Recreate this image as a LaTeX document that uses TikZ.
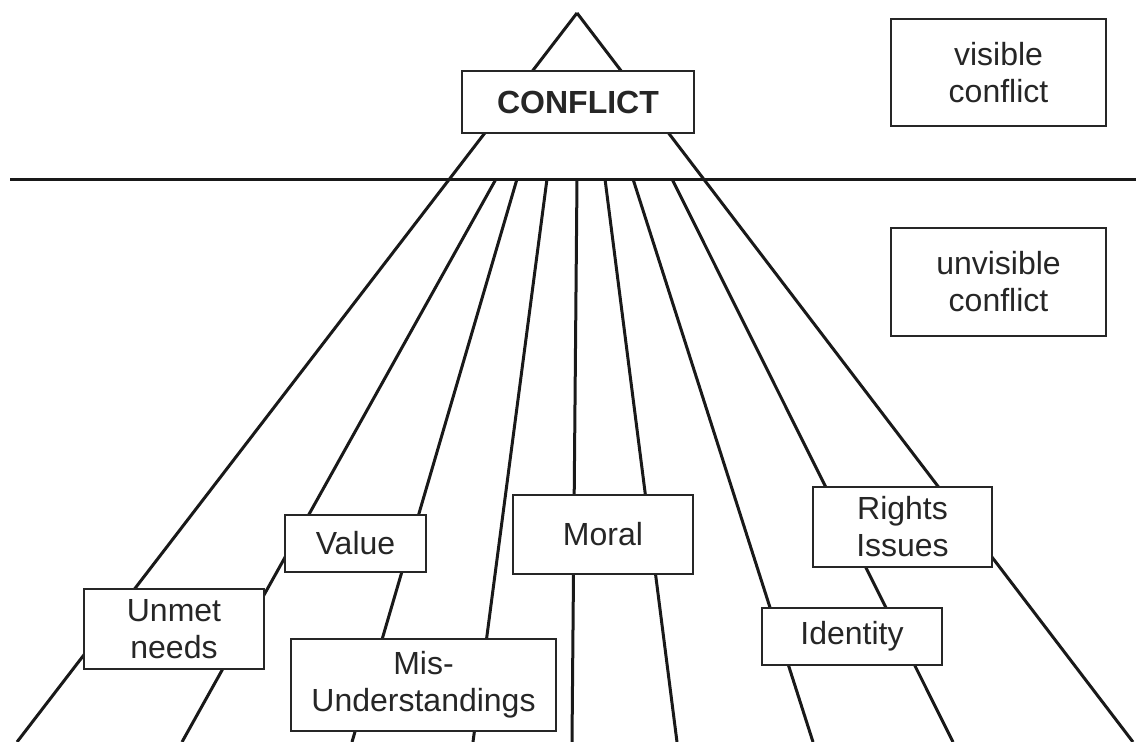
\documentclass[tikz,border=0pt]{standalone}
\usepackage{fontspec}
\setmainfont{Liberation Sans}
\begin{document}
\begin{tikzpicture}[x=1pt,y=-1pt,
  ln/.style={line width=3pt,black!90},
  bx/.style={draw=black!85,line width=2.7pt,fill=white,inner sep=0pt,align=center,
    font=\fontsize{32}{37}\selectfont,text=black!85}]
\useasboundingbox (0,0) rectangle (1136,742);
% apex and ends
\coordinate (apex) at (577,13);
\coordinate (hl) at (10,179);
\coordinate (hr) at (1136,179);
\draw[ln] (hl) -- (hr);
% main triangle sides
\coordinate (La) at (17,742);
\coordinate (Ra) at (1133,742);
\draw[ln] (apex) -- (La);
\draw[ln] (apex) -- (Ra);
% fan lines
\foreach \n/\xt/\xb in {b/496/182, c/517/352, d/547/473, e/577/572, f/605/677, g/633/813, h/672/953}{
  \coordinate (t\n) at (\xt,179);
  \coordinate (e\n) at (\xb,742);
  \draw[ln] (t\n) -- (e\n);
}
% boxes
\node[bx,minimum width=232pt,minimum height=62pt,font=\fontsize{32}{37}\selectfont\bfseries] (conflict) at (578,102) {CONFLICT};
\node[bx,minimum width=215pt,minimum height=107pt] (visible) at (998.5,72.5) {visible\\conflict};
\node[bx,minimum width=215pt,minimum height=108pt] (unvisible) at (998.5,282) {unvisible\\conflict};
\node[bx,minimum width=180pt,minimum height=80pt] (unmet) at (174,629) {Unmet\\needs};
\node[bx,minimum width=141pt,minimum height=57pt] (value) at (355.5,543.5) {Value};
\node[bx,minimum width=265pt,minimum height=92pt] (mis) at (423.5,685) {Mis-\\Understandings};
\node[bx,minimum width=180pt,minimum height=79pt] (moral) at (603,534.5) {Moral};
\node[bx,minimum width=179pt,minimum height=80pt] (rights) at (902.5,527) {Rights\\Issues};
\node[bx,minimum width=180pt,minimum height=57pt] (identity) at (852,636.5) {Identity};
\end{tikzpicture}
\end{document}
